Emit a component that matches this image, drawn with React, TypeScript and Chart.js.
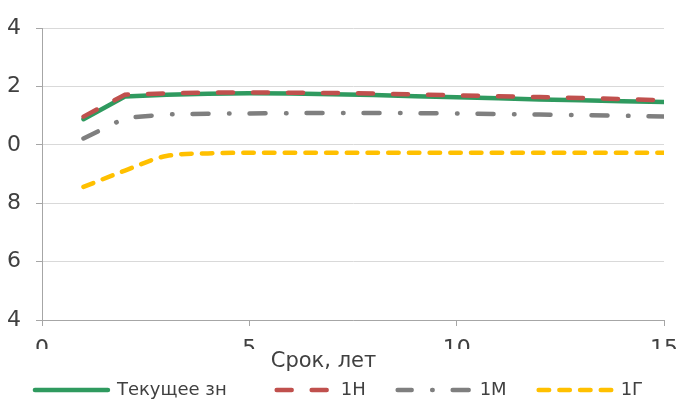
import React, { useEffect, useRef } from 'react';
import { Chart, registerables } from 'chart.js';

Chart.register(...registerables);

// ---- data ----
const years = [1, 2, 3, 4, 5, 6, 7, 8, 9, 10, 11, 12, 13, 14, 15];
const currentValues = [10.88, 11.66, 11.72, 11.75, 11.77, 11.76, 11.74, 11.71, 11.67, 11.63, 11.6, 11.56, 11.53, 11.5, 11.47];
const weekAgo = [10.97, 11.72, 11.77, 11.79, 11.8, 11.79, 11.78, 11.76, 11.73, 11.7, 11.67, 11.64, 11.61, 11.57, 11.53];
const monthAgo = [10.22, 10.92, 11.05, 11.07, 11.08, 11.09, 11.09, 11.09, 11.09, 11.08, 11.06, 11.04, 11.02, 11.0, 10.97];
const yearAgo = [8.56, 9.12, 9.62, 9.71, 9.73, 9.73, 9.73, 9.73, 9.73, 9.73, 9.73, 9.73, 9.73, 9.73, 9.73];
const seriesNames = ['Текущее зн', '1Н', '1М', '1Г'];
const xTickValues = [0, 5, 10, 15];
const yTickValues = [4, 6, 8, 10, 12, 14];
const yTickLabels = ['4', '6', '8', '0', '2', '4'];
const xAxisTitle = 'Срок, лет';

const FONT = "'DejaVu Sans', Verdana, sans-serif";
const TEXT = '#404040';
const AXIS = '#a6a6a6';
const GRID = '#d9d9d9';

// legend dash offsets so the pattern lines up like the reference (drawn right-to-left)
const legendDashOffsets = [0, 17, 2, 0];

const toPoints = (vals: number[]) => years.map((x, i) => ({ x, y: vals[i] }));

const axisTitlePlugin = {
  id: 'axisTitleText',
  afterDraw(chart: any) {
    const ctx = chart.ctx;
    ctx.save();
    ctx.font = `21px ${FONT}`;
    ctx.fillStyle = TEXT;
    ctx.textAlign = 'center';
    ctx.textBaseline = 'alphabetic';
    ctx.fillText(xAxisTitle, 323.5, 367);
    ctx.restore();
  },
};

export default function App() {
  const ref = useRef<HTMLCanvasElement | null>(null);

  useEffect(() => {
    if (!ref.current) return;
    const chart = new Chart(ref.current, {
      type: 'line',
      data: {
        datasets: [
          {
            label: seriesNames[0],
            data: toPoints(currentValues),
            borderColor: '#2f9a5f',
            backgroundColor: '#2f9a5f',
            borderWidth: 4.5,
            borderCapStyle: 'round',
            pointRadius: 0,
            tension: 0,
            order: 4,
          },
          {
            label: seriesNames[1],
            data: toPoints(weekAgo),
            borderColor: '#c0504d',
            backgroundColor: '#c0504d',
            borderWidth: 4.5,
            borderDash: [15, 20],
            borderCapStyle: 'round',
            pointRadius: 0,
            tension: 0,
            order: 3,
          },
          {
            label: seriesNames[2],
            data: toPoints(monthAgo),
            borderColor: '#7f7f7f',
            backgroundColor: '#7f7f7f',
            borderWidth: 4.5,
            borderDash: [16, 20.5, 0.5, 20],
            borderCapStyle: 'round',
            pointRadius: 0,
            tension: 0,
            order: 2,
          },
          {
            label: seriesNames[3],
            data: toPoints(yearAgo),
            borderColor: '#ffc000',
            backgroundColor: '#ffc000',
            borderWidth: 4.5,
            borderDash: [10.5, 10.2],
            borderCapStyle: 'round',
            pointRadius: 0,
            cubicInterpolationMode: 'monotone',
            order: 1,
          },
        ],
      },
      options: {
        animation: false,
        responsive: false,
        devicePixelRatio: 1,
        layout: { padding: { top: 26, right: 0, bottom: 0, left: 0 } },
        plugins: {
          tooltip: { enabled: false },
          title: { display: false },
          legend: {
            display: true,
            position: 'bottom',
            maxHeight: 50,
            labels: {
              usePointStyle: true,
              pointStyle: 'line',
              pointStyleWidth: 73,
              padding: 32,
              color: TEXT,
              font: { family: FONT, size: 18 },
              sort: (a: any, b: any) => a.datasetIndex - b.datasetIndex,
              generateLabels: (c: any) => {
                const base = (Chart as any).defaults.plugins.legend.labels.generateLabels(c);
                return base.map((it: any) => {
                  const ds = c.data.datasets[it.datasetIndex];
                  return {
                    ...it,
                    pointStyle: 'line',
                    lineDash: ds.borderDash || [],
                    lineDashOffset: legendDashOffsets[it.datasetIndex],
                    lineWidth: ds.borderWidth,
                    lineCap: ds.borderCapStyle,
                    strokeStyle: ds.borderColor,
                    fillStyle: ds.borderColor,
                  };
                });
              },
            },
          },
        },
        scales: {
          x: {
            type: 'linear',
            min: 0,
            max: 15,
            afterFit: (scale: any) => {
              scale.height = 29;
              scale.paddingRight = 14;
            },
            afterBuildTicks: (scale: any) => {
              scale.ticks = xTickValues.map((v) => ({ value: v }));
            },
            ticks: {
              color: TEXT,
              font: { family: FONT, size: 22 },
              padding: 10,
              maxRotation: 0,
              autoSkip: false,
            },
            grid: {
              drawOnChartArea: false,
              drawTicks: true,
              tickLength: 6,
              tickColor: AXIS,
            },
            border: { display: true, color: AXIS, width: 1 },
          },
          y: {
            type: 'linear',
            min: 4,
            max: 14,
            afterFit: (scale: any) => {
              scale.width = 42;
            },
            afterBuildTicks: (scale: any) => {
              scale.ticks = yTickValues.map((v) => ({ value: v }));
            },
            ticks: {
              color: TEXT,
              font: { family: FONT, size: 22 },
              padding: 15,
              callback: (value: any) => {
                const i = yTickValues.indexOf(Number(value));
                return i >= 0 ? yTickLabels[i] : '';
              },
            },
            grid: {
              color: GRID,
              lineWidth: 1,
              drawTicks: true,
              tickLength: 6,
              tickColor: AXIS,
            },
            border: { display: true, color: AXIS, width: 1 },
          },
        },
      },
      plugins: [axisTitlePlugin],
    } as any);
    return () => chart.destroy();
  }, []);

  return (
    <div style={{ position: 'fixed', left: 0, top: 0, width: 678, height: 399, background: '#fff', overflow: 'hidden' }}>
      <canvas ref={ref} width={678} height={399} style={{ display: 'block', width: 678, height: 399 }} />
    </div>
  );
}
